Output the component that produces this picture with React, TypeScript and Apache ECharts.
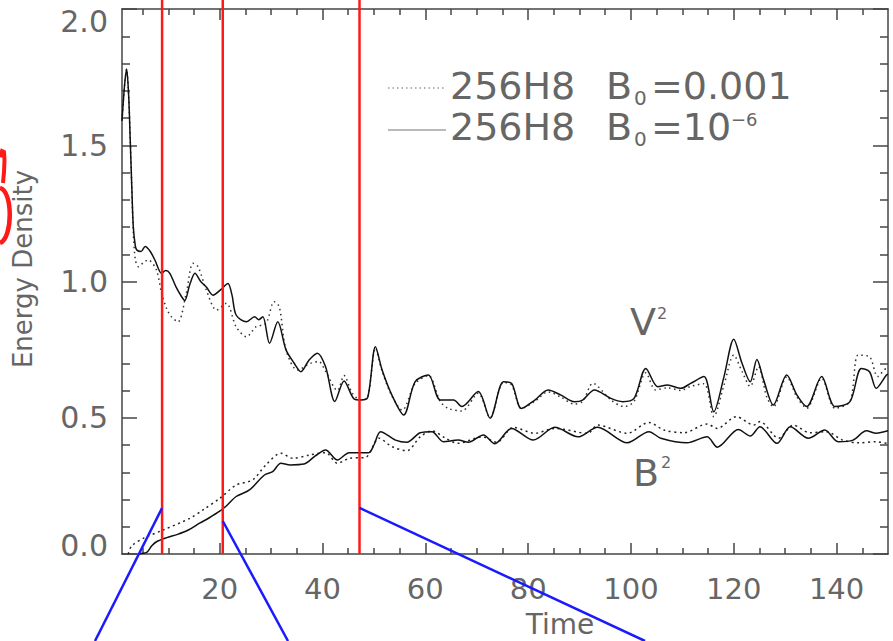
import React, { useEffect, useRef } from "react";
import * as echarts from "echarts";

// ---- data (time, energy density) ----
const vSolid: [number, number][] = [
  [1.0, 1.59], [1.5, 1.72], [1.9, 1.78], [2.3, 1.68], [2.6, 1.52], [2.9, 1.35], [3.2, 1.2], [3.6, 1.13],
  [3.9, 1.115], [4.7, 1.11], [5.5, 1.128], [6.5, 1.11], [7.4, 1.079], [8.7, 1.03], [9.5, 1.04], [10.3, 1.03],
  [11.5, 0.98], [12.6, 0.944], [13.2, 0.93], [14.2, 0.99], [15.2, 1.03], [16.3, 1.0], [17.4, 0.98], [18.7, 0.95],
  [20.2, 0.97], [21.6, 0.993], [22.4, 0.95], [23.2, 0.877], [25.2, 0.852], [26.8, 0.871], [27.6, 0.86], [28.4, 0.871],
  [29.7, 0.773], [31.3, 0.852], [32.9, 0.749], [34.5, 0.7], [35.8, 0.669], [37.4, 0.712], [39.0, 0.737], [40.6, 0.687],
  [42.4, 0.56], [44.2, 0.635], [46.2, 0.568], [47.5, 0.565], [48.8, 0.575], [50.3, 0.761], [51.6, 0.675], [53.5, 0.583],
  [55.8, 0.51], [58.0, 0.632], [60.6, 0.657], [62.9, 0.565], [65.5, 0.565], [67.1, 0.541], [70.3, 0.596], [72.6, 0.498],
  [75.2, 0.632], [76.8, 0.626], [78.7, 0.534], [81.3, 0.565], [83.9, 0.602], [86.4, 0.583], [89.0, 0.559], [90.6, 0.565],
  [92.9, 0.602], [96.1, 0.571], [98.4, 0.559], [100.6, 0.571], [102.9, 0.681], [105.2, 0.614], [107.1, 0.62], [109.7, 0.608],
  [111.6, 0.626], [114.2, 0.651], [116.1, 0.522], [118.1, 0.651], [120.0, 0.788], [121.6, 0.7], [123.2, 0.632], [124.5, 0.714],
  [125.8, 0.639], [127.7, 0.547], [130.3, 0.657], [132.3, 0.583], [134.2, 0.541], [137.1, 0.651], [139.7, 0.541], [142.6, 0.559],
  [144.8, 0.681], [146.4, 0.669], [147.7, 0.608], [149.7, 0.657], [150.0, 0.66],
];

const vDotted: [number, number][] = [
  [1.0, 1.59], [1.5, 1.72], [1.9, 1.78], [2.3, 1.68], [2.6, 1.52], [2.9, 1.35], [3.2, 1.18], [3.6, 1.08],
  [4.2, 1.054], [5.2, 1.07], [6.1, 1.079], [7.7, 1.042], [8.7, 0.957], [9.7, 0.9], [10.6, 0.871], [11.9, 0.852],
  [13.5, 0.957], [14.8, 1.067], [15.8, 1.054], [17.4, 0.969], [19.4, 0.895], [21.3, 0.92], [23.2, 0.834], [25.2, 0.797],
  [27.1, 0.834], [29.0, 0.846], [30.6, 0.926], [31.6, 0.907], [32.9, 0.75], [35.1, 0.675], [37.7, 0.7], [39.3, 0.706],
  [40.6, 0.67], [42.9, 0.6], [44.2, 0.655], [45.8, 0.59], [47.5, 0.565], [48.8, 0.575], [50.3, 0.755], [51.6, 0.67],
  [53.5, 0.58], [55.5, 0.528], [58.0, 0.625], [60.6, 0.655], [62.9, 0.56], [64.5, 0.534], [67.1, 0.525], [70.3, 0.59],
  [72.6, 0.5], [75.2, 0.63], [76.8, 0.62], [78.7, 0.534], [81.3, 0.56], [83.9, 0.595], [86.4, 0.575], [89.0, 0.55],
  [90.6, 0.56], [92.6, 0.626], [96.1, 0.565], [98.7, 0.541], [100.6, 0.56], [102.9, 0.665], [104.8, 0.602], [107.1, 0.61],
  [109.7, 0.6], [111.6, 0.615], [114.2, 0.625], [116.1, 0.504], [118.1, 0.62], [120.0, 0.73], [121.6, 0.67], [123.2, 0.615],
  [124.8, 0.688], [126.4, 0.577], [127.7, 0.54], [130.3, 0.65], [132.3, 0.575], [134.2, 0.535], [137.1, 0.645], [139.7, 0.535],
  [142.6, 0.56], [144.2, 0.73], [146.4, 0.724], [148.0, 0.651], [149.7, 0.68], [150.0, 0.68],
];

const bSolid: [number, number][] = [
  [3.5, -0.02], [4.5, 0.0], [5.8, 0.006], [6.8, 0.03], [7.7, 0.045], [9.7, 0.06], [11.8, 0.072], [13.9, 0.088],
  [16.1, 0.113], [18.0, 0.133], [20.0, 0.157], [21.5, 0.18], [23.2, 0.211], [25.8, 0.235], [28.7, 0.29], [30.3, 0.302],
  [31.9, 0.333], [33.7, 0.327], [36.4, 0.33], [38.6, 0.36], [40.6, 0.382], [42.9, 0.345], [45.2, 0.372], [49.0, 0.372],
  [50.0, 0.4], [51.3, 0.449], [54.2, 0.418], [56.4, 0.41], [59.0, 0.445], [61.3, 0.449], [63.5, 0.412], [66.4, 0.418],
  [68.4, 0.41], [71.3, 0.437], [73.5, 0.405], [76.8, 0.461], [81.0, 0.418], [85.2, 0.465], [89.7, 0.43], [93.5, 0.465],
  [99.3, 0.408], [103.5, 0.449], [105.8, 0.425], [110.9, 0.408], [114.8, 0.43], [116.8, 0.392], [120.9, 0.457], [123.2, 0.433],
  [125.1, 0.467], [128.4, 0.406], [131.0, 0.467], [134.5, 0.425], [137.7, 0.455], [140.3, 0.412], [143.2, 0.418], [145.8, 0.452],
  [147.7, 0.443], [150.0, 0.452],
];

const bDotted: [number, number][] = [
  [2.2, 0.0], [2.9, 0.03], [5.2, 0.058], [9.0, 0.088], [14.2, 0.131], [17.0, 0.165], [20.0, 0.204], [23.2, 0.253],
  [26.4, 0.272], [29.0, 0.327], [31.9, 0.37], [34.2, 0.351], [37.4, 0.363], [40.6, 0.372], [42.9, 0.333], [45.2, 0.351],
  [48.4, 0.355], [51.0, 0.425], [53.5, 0.394], [56.4, 0.379], [59.0, 0.43], [61.3, 0.452], [63.9, 0.425], [66.4, 0.406],
  [71.0, 0.43], [73.9, 0.41], [77.1, 0.465], [81.3, 0.443], [85.2, 0.461], [91.6, 0.443], [93.5, 0.473], [99.3, 0.443],
  [103.5, 0.483], [106.4, 0.455], [110.3, 0.445], [114.8, 0.477], [116.8, 0.461], [120.5, 0.504], [123.9, 0.473], [125.1, 0.486],
  [128.7, 0.425], [131.6, 0.473], [134.8, 0.445], [138.0, 0.449], [141.2, 0.418], [144.4, 0.408], [147.7, 0.412], [150.0, 0.405],
];

const xMajorTicks = [20, 40, 60, 80, 100, 120, 140];
const xMinorTicks = [5, 10, 15, 25, 30, 35, 45, 50, 55, 65, 70, 75, 85, 90, 95, 105, 110, 115, 125, 130, 135, 145];
const redLineTimes = [8.8, 20.6, 47.2];
const blueStartValues = [0.169, 0.121, 0.169];
const blueEnds: [number, number][] = [[95, 641], [288, 641], [645, 641]];

const FONT = "DejaVu Sans";
const TXT = "#666";
const AX = "#444";

export default function App() {
  const ref = useRef<HTMLDivElement>(null);
  useEffect(() => {
    if (!ref.current) return;
    const chart = echarts.init(ref.current, undefined, { renderer: "svg" });
    const lineStyle = { color: AX, width: 1.5 };
    const xBase = { type: "value", min: 1, max: 150, splitLine: { show: false } };
    const yBase = { type: "value", min: 0, max: 2, interval: 0.5, splitLine: { show: false } };
    const labelRich = {
      n: { fontSize: 30, color: TXT, fontFamily: FONT },
      t: { fontSize: 30, color: TXT, fontFamily: FONT, padding: [24, 0, 0, 0] },
      b: { fontSize: 30, color: TXT, fontFamily: FONT, padding: [0, 0, 18, 0] },
    };
    chart.setOption({
      animation: false,
      backgroundColor: "#fff",
      grid: { left: 122, right: 5, top: 9, bottom: 87, containLabel: false },
      xAxis: [
        {
          ...xBase, position: "bottom",
          axisLine: { show: true, lineStyle },
          axisTick: { show: true, inside: true, length: 11, customValues: xMajorTicks, lineStyle },
          axisLabel: { show: true, customValues: xMajorTicks, margin: 20, fontSize: 29, color: TXT, fontFamily: FONT },
        },
        {
          ...xBase, position: "bottom",
          axisLine: { show: false },
          axisTick: { show: true, inside: true, length: 6, customValues: xMinorTicks, lineStyle },
          axisLabel: { show: false },
        },
        {
          ...xBase, position: "top",
          axisLine: { show: true, lineStyle },
          axisTick: { show: true, inside: true, length: 11, customValues: xMajorTicks, lineStyle },
          axisLabel: { show: false },
        },
        {
          ...xBase, position: "top",
          axisLine: { show: false },
          axisTick: { show: true, inside: true, length: 6, customValues: xMinorTicks, lineStyle },
          axisLabel: { show: false },
        },
      ],
      yAxis: [
        {
          ...yBase, position: "left",
          axisLine: { show: true, lineStyle },
          axisTick: { show: true, inside: true, length: 15, lineStyle },
          minorTick: { show: true, splitNumber: 5, length: 8, lineStyle },
          minorSplitLine: { show: false },
          axisLabel: {
            margin: 14, fontSize: 30, color: TXT, fontFamily: FONT,
            formatter: (v: number) => (v >= 2 ? `{t|${v.toFixed(1)}}` : v <= 0 ? `{b|${v.toFixed(1)}}` : `{n|${v.toFixed(1)}}`),
            rich: labelRich,
          },
        },
        {
          ...yBase, position: "right",
          axisLine: { show: true, lineStyle },
          axisTick: { show: true, inside: true, length: 15, lineStyle },
          minorTick: { show: true, splitNumber: 5, length: 8, lineStyle },
          minorSplitLine: { show: false },
          axisLabel: { show: false },
        },
      ],
      series: [
        { name: "vDotted", type: "line", data: vDotted, symbol: "none", smooth: 0.3, clip: true,
          lineStyle: { color: "#333", width: 1.5, type: [1.5, 3.5] } },
        { name: "vSolid", type: "line", data: vSolid, symbol: "none", smooth: 0.3, clip: true,
          lineStyle: { color: "#111", width: 1.5 } },
        { name: "bDotted", type: "line", data: bDotted, symbol: "none", smooth: 0.3, clip: true,
          lineStyle: { color: "#222", width: 1.5, type: [2, 3.5] } },
        { name: "bSolid", type: "line", data: bSolid, symbol: "none", smooth: 0.3, clip: true,
          lineStyle: { color: "#111", width: 1.5 } },
      ],
    });

    const px = (t: number, v: number) =>
      chart.convertToPixel({ xAxisIndex: 0, yAxisIndex: 0 }, [t, v]) as number[];

    const graphics: any[] = [];
    redLineTimes.forEach((t) => {
      const p = px(t, 0);
      graphics.push({ type: "line", z: 100, shape: { x1: p[0], y1: 0, x2: p[0], y2: p[1] },
        style: { stroke: "#ff1a1a", lineWidth: 2.5 } });
    });
    redLineTimes.forEach((t, i) => {
      const p = px(t, blueStartValues[i]);
      graphics.push({ type: "line", z: 101, shape: { x1: p[0], y1: p[1], x2: blueEnds[i][0], y2: blueEnds[i][1] },
        style: { stroke: "#1a1aff", lineWidth: 2.5 } });
    });
    // red handwriting at left edge
    graphics.push({ type: "polyline", z: 100, shape: { points: [[0, 157], [2, 151], [4, 152], [4.5, 160], [4, 172], [3, 183]] },
      style: { stroke: "#ff1a1a", lineWidth: 4, fill: null } });
    graphics.push({ type: "bezierCurve", z: 100, shape: { x1: 0, y1: 188, cpx1: 13, cpy1: 191, cpx2: 13, cpy2: 238, x2: 0, y2: 243 },
      style: { stroke: "#ff1a1a", lineWidth: 4.5, fill: null } });

    const txt = (text: string, x: number, y: number, size: number, extra: any = {}) => ({
      type: "text", z: 50, x, y,
      style: { text, fontSize: size, fontFamily: FONT, fill: TXT, align: "left", verticalAlign: "middle", ...extra },
    });
    // legend
    graphics.push({ type: "line", z: 50, shape: { x1: 388, y1: 88, x2: 446, y2: 88 },
      style: { stroke: "#666", lineWidth: 1.2, lineDash: [1.5, 3] } });
    graphics.push({ type: "line", z: 50, shape: { x1: 388, y1: 130, x2: 446, y2: 130 },
      style: { stroke: "#777", lineWidth: 1.2 } });
    graphics.push(txt("256H8", 450, 85.5, 38));
    graphics.push(txt("B", 606, 85.5, 38));
    graphics.push(txt("0", 634, 98, 20));
    graphics.push(txt("=0.001", 651, 85.5, 38));
    graphics.push(txt("256H8", 450, 126.5, 38));
    graphics.push(txt("B", 606, 126.5, 38));
    graphics.push(txt("0", 634, 139, 20));
    graphics.push(txt("=10", 651, 126.5, 38));
    graphics.push(txt("\u22126", 731, 119, 18));
    // curve labels
    graphics.push(txt("V", 630, 321.5, 38));
    graphics.push(txt("2", 657, 313, 16));
    graphics.push(txt("B", 633, 472.5, 38));
    graphics.push(txt("2", 661, 462, 16));
    // axis titles
    graphics.push(txt("Time", 560, 624, 28, { align: "center" }));
    graphics.push({ type: "text", z: 50, x: 23, y: 269, rotation: Math.PI / 2,
      style: { text: "Energy Density", fontSize: 26, fontFamily: FONT, fill: TXT, align: "center", verticalAlign: "middle" } });

    chart.setOption({ graphic: graphics });
    return () => chart.dispose();
  }, []);
  return (
    <div
      ref={ref}
      style={{ position: "fixed", left: 0, top: 0, width: 893, height: 641, background: "#fff" }}
    />
  );
}
